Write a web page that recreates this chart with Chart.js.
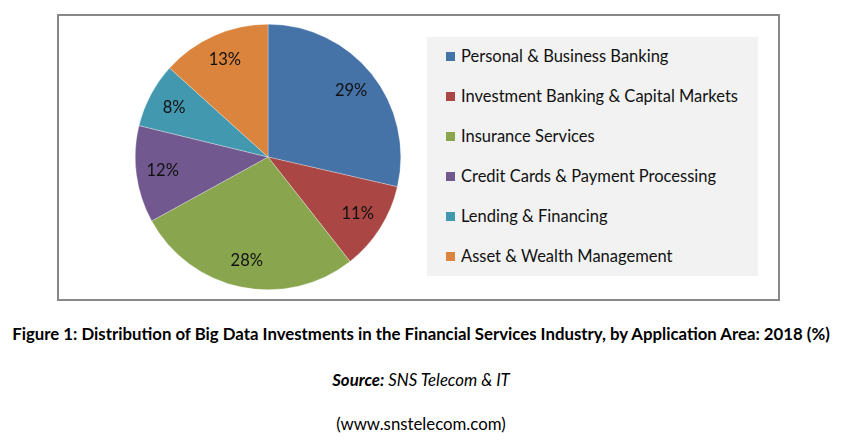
<!DOCTYPE html>
<html>
<head>
<meta charset="utf-8">
<script src="https://cdn.jsdelivr.net/npm/chart.js"></script>
<style>
  body { margin: 0; background: #fff; font-family: Lato, "Open Sans", sans-serif; }
  #frame { position: absolute; left: 57px; top: 14px; width: 719px; height: 283px; border: 2px solid #888; }
  #pie-wrap { position: absolute; left: 135px; top: 24px; width: 266px; height: 266px; }
  #legend { position: absolute; left: 427px; top: 37px; width: 331px; height: 239px; background: #f2f2f2; }
  .item { position: absolute; left: 19px; font-size: 16.5px; color: #111; white-space: nowrap; line-height: 20px; }
  .item span.box { display: inline-block; width: 9px; height: 9px; margin-right: 6px; vertical-align: 1px; }
  .cap { position: absolute; left: 0; width: 842px; text-align: center; font-size: 16.8px; color: #000; line-height: 20px; }
</style>
</head>
<body>
<div id="frame"></div>
<div id="pie-wrap"><canvas id="pieChart"></canvas></div>
<div id="legend"></div>
<div class="cap" style="top:324px;font-weight:bold;">Figure 1: Distribution of Big Data Investments in the Financial Services Industry, by Application Area: 2018 (%)</div>
<div class="cap" style="top:370px;font-style:italic;"><b>Source:</b> SNS Telecom &amp; IT</div>
<div class="cap" style="top:414px;">(www.snstelecom.com)</div>
<script>
const categories = [
  "Personal & Business Banking",
  "Investment Banking & Capital Markets",
  "Insurance Services",
  "Credit Cards & Payment Processing",
  "Lending & Financing",
  "Asset & Wealth Management"
];
const shares = [28.6, 10.8, 27.6, 11.8, 7.9, 13.3];
const colors = ["#4572a7", "#aa4643", "#89a54e", "#71588f", "#4198af", "#db843d"];

// percent labels inside each slice
const sliceLabels = {
  id: "sliceLabels",
  afterDatasetsDraw(chart) {
    const ctx = chart.ctx;
    const meta = chart.getDatasetMeta(0);
    ctx.save();
    ctx.font = "16.5px Lato, 'Open Sans', sans-serif";
    ctx.fillStyle = "#111";
    ctx.textAlign = "center";
    ctx.textBaseline = "middle";
    meta.data.forEach((arc, i) => {
      const mid = (arc.startAngle + arc.endAngle) / 2;
      const r = arc.outerRadius * 0.8;
      ctx.fillText(Math.round(shares[i]) + "%", arc.x + Math.cos(mid) * r, arc.y + Math.sin(mid) * r);
    });
    ctx.restore();
  }
};

const chart = new Chart(document.getElementById("pieChart").getContext("2d"), {
  type: "pie",
  data: {
    labels: categories,
    datasets: [{
      data: shares,
      backgroundColor: colors,
      borderColor: "rgba(255,255,255,0.6)",
      borderWidth: 0.5
    }]
  },
  options: {
    responsive: true,
    maintainAspectRatio: false,
    animation: false,
    layout: { padding: 0 },
    plugins: {
      legend: { display: false },
      tooltip: { enabled: false }
    }
  },
  plugins: [sliceLabels]
});

// html legend built from the chart's own items
const legend = document.getElementById("legend");
chart.options.plugins.legend.labels.generateLabels(chart).forEach((it, i) => {
  const row = document.createElement("div");
  row.className = "item";
  row.style.top = (9 + i * 40) + "px";
  row.innerHTML = `<span class="box" style="background:${it.fillStyle}"></span>`;
  row.appendChild(document.createTextNode(it.text));
  legend.appendChild(row);
});
</script>
</body>
</html>
